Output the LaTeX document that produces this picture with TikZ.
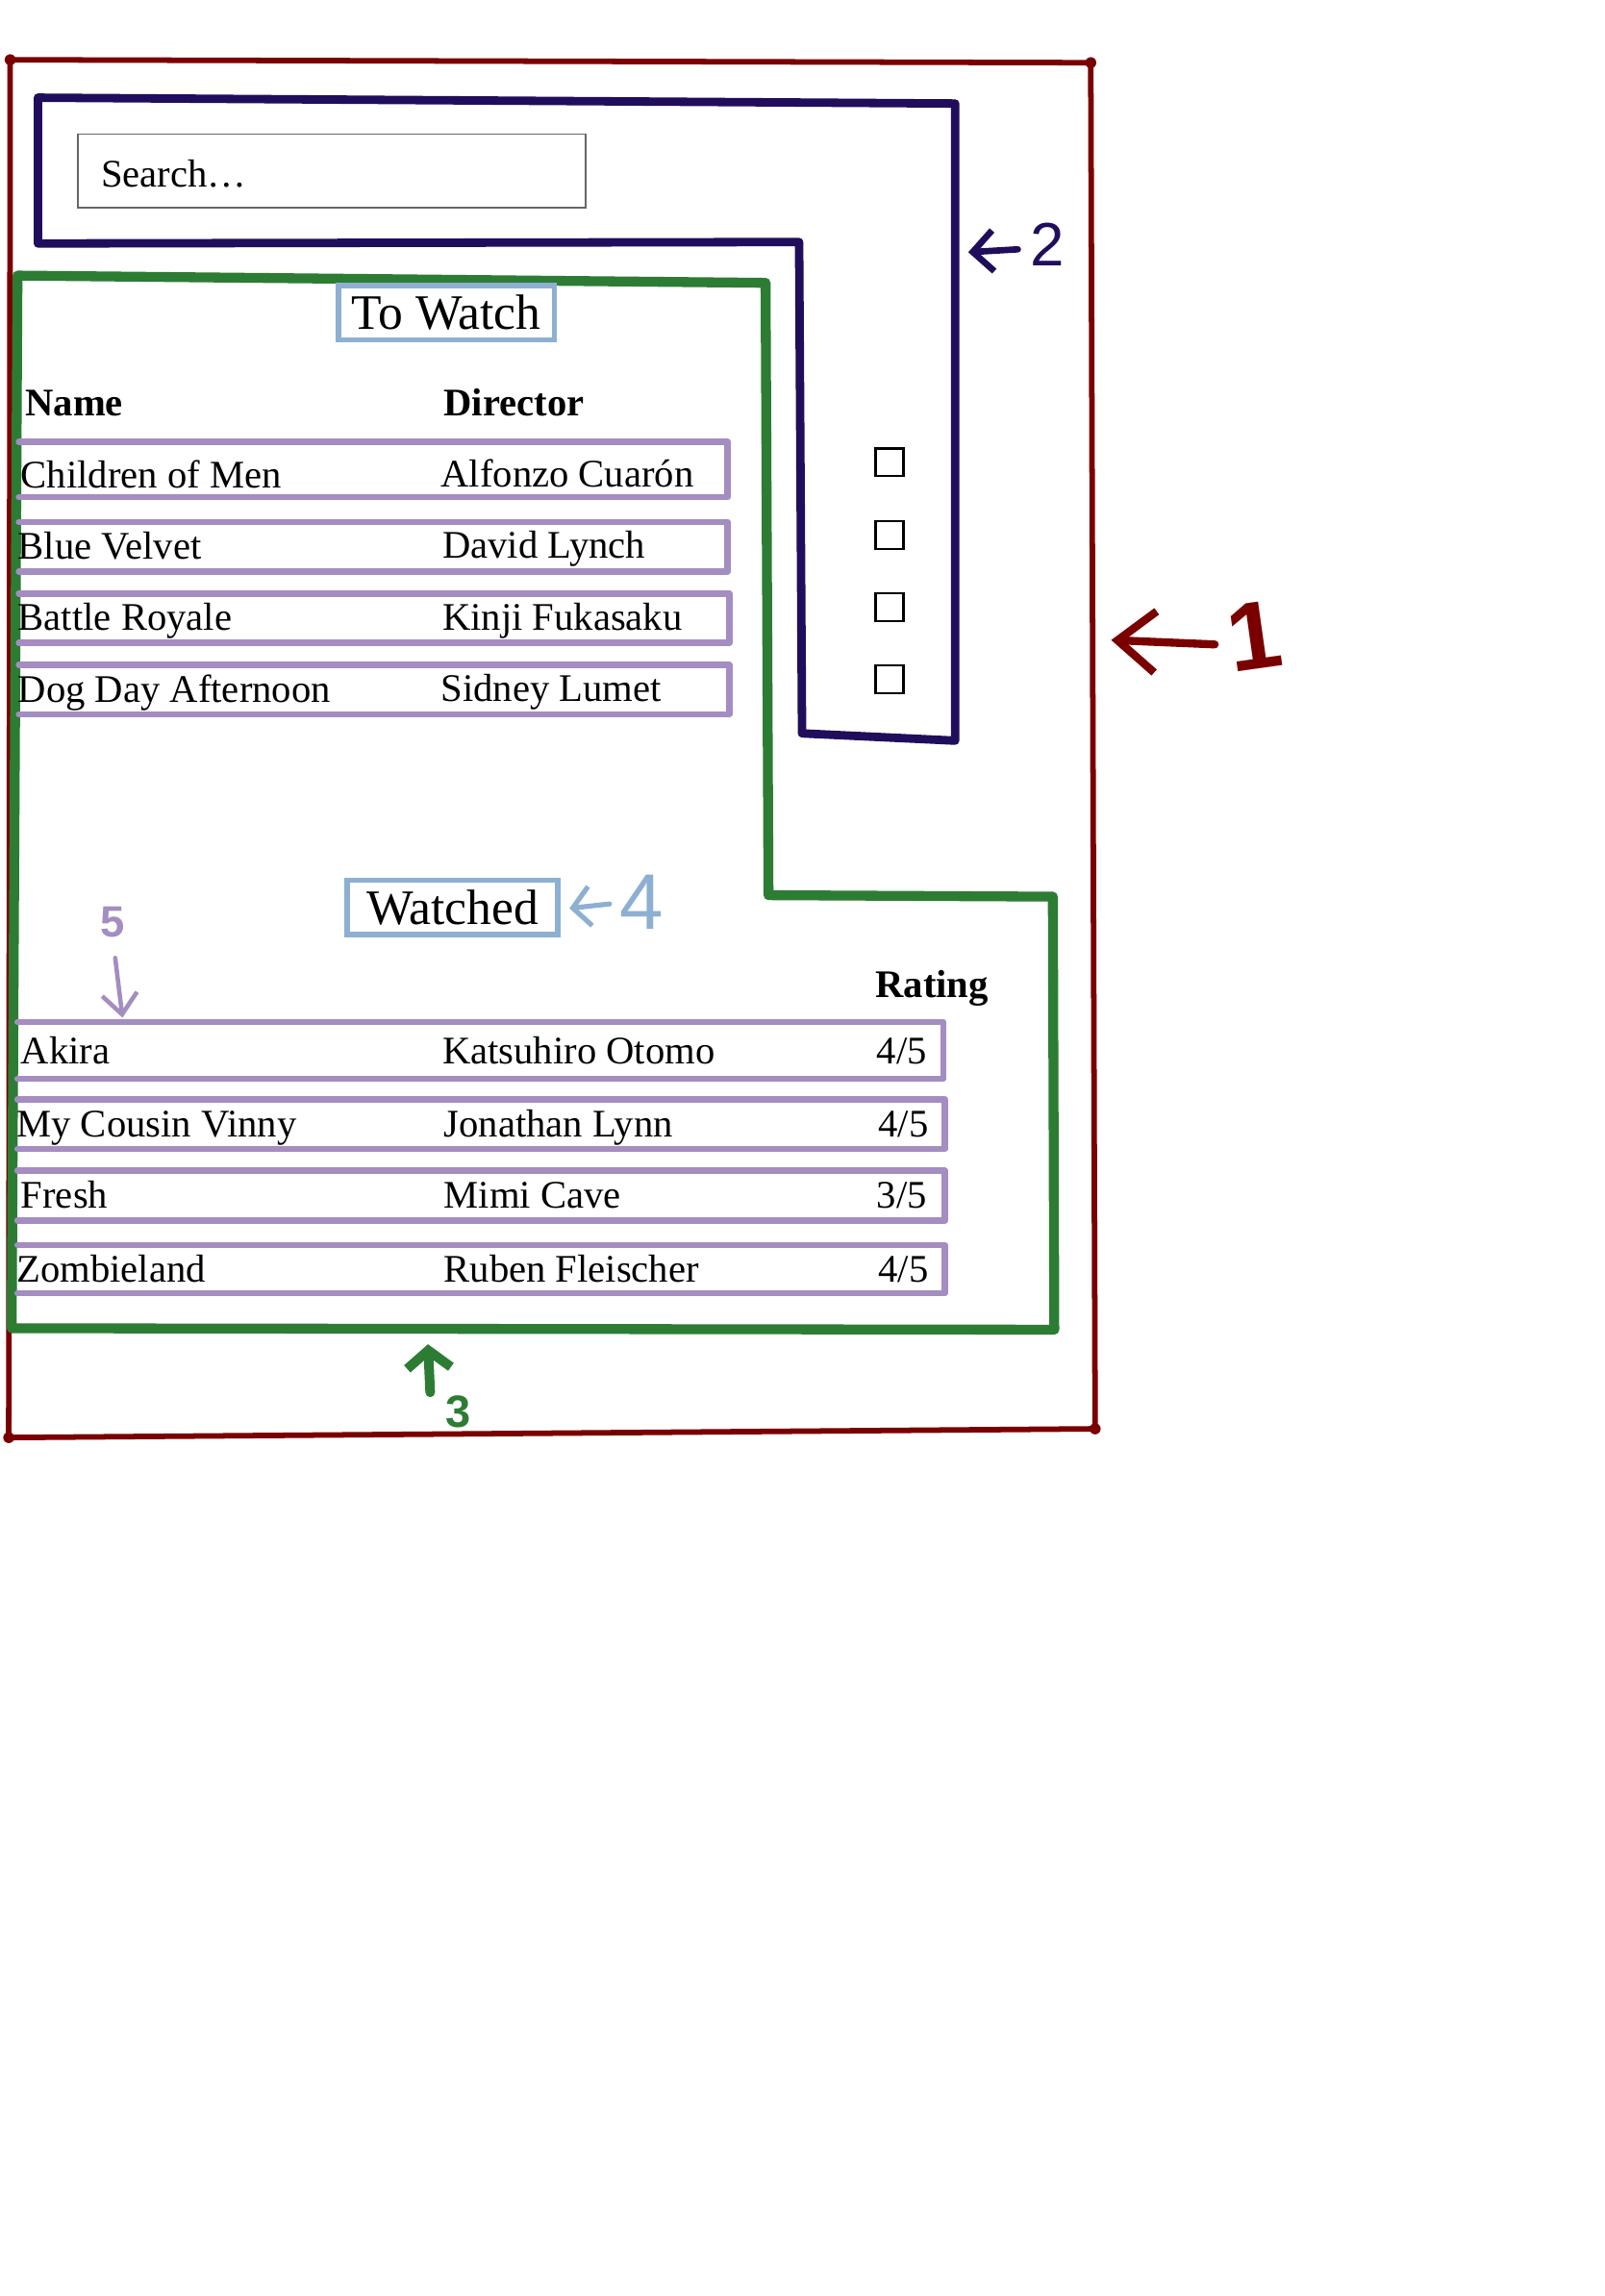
\documentclass[tikz,border=0pt]{standalone}
\usepackage{fontspec}
\setmainfont{Liberation Serif}
\newfontfamily\handfont{Liberation Sans}
\usetikzlibrary{arrows.meta}
\definecolor{frameRed}{RGB}{122,0,0}
\definecolor{navyInk}{RGB}{32,14,92}
\definecolor{greenInk}{RGB}{45,124,52}
\definecolor{blueInk}{RGB}{141,176,210}
\definecolor{purpInk}{RGB}{163,141,193}
\begin{document}
\begin{tikzpicture}[x=0.5pt,y=-0.5pt,
  redframe/.style={draw=frameRed,line width=1.9pt,line join=round,line cap=round},
  navyframe/.style={draw=navyInk,line width=2.9pt,line join=round,line cap=round},
  greenframe/.style={draw=greenInk,line width=3.4pt,line join=round,line cap=round},
  rowbox/.style={draw=purpInk,line width=2.2pt,line join=round,line cap=round},
  searchbox/.style={draw=black!60,line width=0.6pt},
  titlebox/.style={draw=blueInk,line width=1.8pt,inner sep=0pt,minimum width=74pt,minimum height=18.7pt,font=\fontsize{17}{20}\selectfont},
  cell/.style={anchor=base west,inner sep=0pt,font=\fontsize{13.4}{16}\selectfont},
  headcell/.style={anchor=base west,inner sep=0pt,font=\fontsize{13.4}{16}\selectfont\bfseries},
  ratecell/.style={anchor=base east,inner sep=0pt,font=\fontsize{13.4}{16}\selectfont},
  checkbox/.style={draw=black,line width=0.8pt,minimum size=9.5pt,inner sep=0pt},
  hand/.style={inner sep=0pt,anchor=center},
  arrowred/.style={draw=frameRed,line width=2.75pt,line cap=round,-{Straight Barb[length=13pt,width=21pt]}},
  arrownavy/.style={draw=navyInk,line width=2.2pt,line cap=round,-{Straight Barb[length=7pt,width=14pt]}},
  arrowgreen/.style={draw=greenInk,line width=3.3pt,line cap=round,-{Straight Barb[length=6pt,width=15pt]}},
  arrowblue/.style={draw=blueInk,line width=1.7pt,line cap=round,-{Straight Barb[length=6pt,width=13.5pt]}},
  arrowpurp/.style={draw=purpInk,line width=1.5pt,line cap=round,-{Straight Barb[length=7pt,width=12pt]}}
]
\fill[white] (0,0) rectangle (1100,1574.8);
\useasboundingbox (0,0) rectangle (1100,1574.8);

% outer page frame (1)
\draw[redframe] (7,41) -- (748,43) -- (751,980) -- (6,986) -- cycle;
\foreach \p in {(7,41),(748,43),(751,980),(6,986)} \fill[frameRed] \p circle[radius=1.9pt];

% header / filter frame (2)
\draw[navyframe] (26,67) -- (655,71) -- (655,508) -- (550,503) -- (548,166) -- (26,167) -- cycle;

% lists frame (3)
\draw[greenframe] (12,189) -- (525,194) -- (527,614) -- (722,615) -- (723,912) -- (8,911) -- cycle;

% search box
\draw[searchbox] (53.4,92) rectangle (401.6,142.5);
\node[cell] (search) at (69,128) {Search…};

% checkboxes
\node[checkbox] (cb1) at (610,317) {};
\node[checkbox] (cb2) at (610,367) {};
\node[checkbox] (cb3) at (610,416.4) {};
\node[checkbox] (cb4) at (610,465.8) {};

% To Watch list
\node[titlebox] (towatch) at (306,214.5) {To Watch};
\node[headcell] (hname) at (17,285) {Name};
\node[headcell] (hdir) at (304,285) {Director};

\draw[rowbox] (13,303) -- (499,303) -- (499,341) -- (13,341);
\draw[rowbox] (13,358) -- (499,358) -- (499,392) -- (13,392);
\draw[rowbox] (13,407) -- (500,407) -- (500,441) -- (13,441);
\draw[rowbox] (13,456) -- (500,456) -- (500,490) -- (13,490);

\node[cell] (tw1n) at (14,335) {Children of Men};
\node[cell] (tw1d) at (302,334) {Alfonzo Cuarón};
\node[cell] (tw2n) at (12,383.5) {Blue Velvet};
\node[cell] (tw2d) at (303,382.5) {David Lynch};
\node[cell] (tw3n) at (12,432) {Battle Royale};
\node[cell] (tw3d) at (303,432) {Kinji Fukasaku};
\node[cell] (tw4n) at (12,481.5) {Dog Day Afternoon};
\node[cell] (tw4d) at (302,481) {Sidney Lumet};

% Watched list
\node[titlebox,minimum width=72.3pt] (watched) at (310.3,622.3) {Watched};
\node[headcell] (hrate) at (600,684) {Rating};

\draw[rowbox] (12,701) -- (647,701) -- (647,740) -- (12,740);
\draw[rowbox] (12,754) -- (648,754) -- (648,788) -- (12,788);
\draw[rowbox] (12,803) -- (648,803) -- (648,837) -- (12,837);
\draw[rowbox] (12,854) -- (648,854) -- (648,887) -- (12,887);

\node[cell] (w1n) at (14,730) {Akira};
\node[cell] (w1d) at (303,730) {Katsuhiro Otomo};
\node[ratecell] (w1r) at (636,730) {4/5};
\node[cell] (w2n) at (11,779.5) {My Cousin Vinny};
\node[cell] (w2d) at (304,779.5) {Jonathan Lynn};
\node[ratecell] (w2r) at (637,779.5) {4/5};
\node[cell] (w3n) at (14,828.5) {Fresh};
\node[cell] (w3d) at (304,828.5) {Mimi Cave};
\node[ratecell] (w3r) at (636,828.5) {3/5};
\node[cell] (w4n) at (11,879.5) {Zombieland};
\node[cell] (w4d) at (304,879.5) {Ruben Fleischer};
\node[ratecell] (w4r) at (637,879.5) {4/5};

% annotation 1
\coordinate (a1tail) at (833,442);
\coordinate (a1tip) at (762,439);
\draw[arrowred] (a1tail) -- (a1tip);
\node[hand,text=frameRed,font=\handfont\bfseries\fontsize{33}{36}\selectfont,rotate=8] (lab1) at (860,436.5) {1};

% annotation 2
\coordinate (a2tail) at (698,171);
\coordinate (a2tip) at (664,173);
\draw[arrownavy] (a2tail) -- (a2tip);
\node[hand,text=navyInk,font=\handfont\fontsize{21}{24}\selectfont] (lab2) at (718,168) {2};

% annotation 3
\coordinate (a3tail) at (295,955);
\coordinate (a3tip) at (293.5,922);
\draw[arrowgreen] (a3tail) -- (a3tip);
\node[hand,text=greenInk,font=\handfont\bfseries\fontsize{15.5}{18}\selectfont] (lab3) at (314,968.6) {3};

% annotation 4
\coordinate (a4tail) at (418,620);
\coordinate (a4tip) at (390.5,623);
\draw[arrowblue] (a4tail) -- (a4tip);
\node[hand,text=blueInk,font=\handfont\fontsize{27}{30}\selectfont] (lab4) at (440,619) {4};

% annotation 5
\coordinate (a5tail) at (79,657);
\coordinate (a5tip) at (84,698);
\draw[arrowpurp] (a5tail) -- (a5tip);
\node[hand,text=purpInk,font=\handfont\bfseries\fontsize{15}{18}\selectfont] (lab5) at (77,632.5) {5};
\end{tikzpicture}
\end{document}
